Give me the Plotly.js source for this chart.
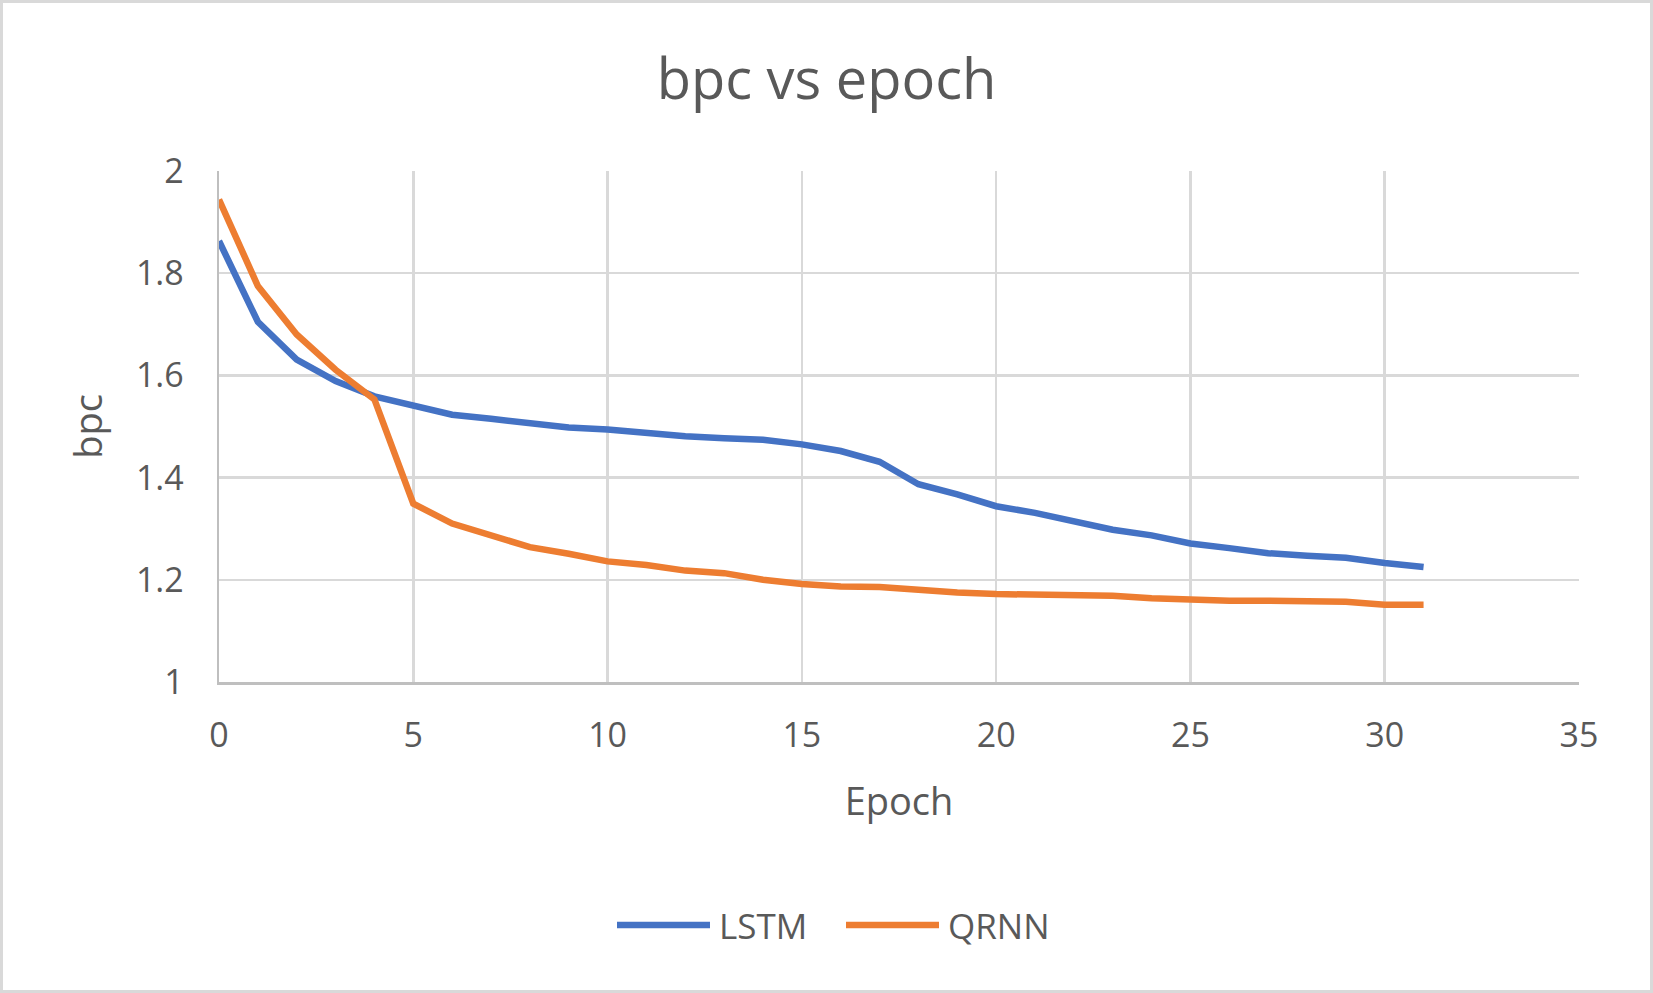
<!DOCTYPE html>
<html>
<head>
<meta charset="utf-8">
<script src="https://cdn.plot.ly/plotly-3.0.1.min.js"></script>
<style>
  html, body { margin:0; padding:0; background:#fff; }
  #wrap { position:relative; width:1653px; height:993px; }
  #chart { width:1653px; height:993px; }
  #frame { position:absolute; left:0; top:0; width:1653px; height:993px; box-sizing:border-box; border:3px solid #d9d9d9; pointer-events:none; }
</style>
</head>
<body>
<div id="wrap"><div id="chart"></div><div id="frame"></div></div>
<script>
const epochs = [0,1,2,3,4,5,6,7,8,9,10,11,12,13,14,15,16,17,18,19,20,21,22,23,24,25,26,27,28,29,30,31];
const lstm = [1.863,1.705,1.631,1.589,1.559,1.540,1.523,1.515,1.506,1.498,1.494,1.486,1.481,1.477,1.474,1.465,
              1.452,1.431,1.387,1.367,1.344,1.331,1.316,1.298,1.287,1.271,1.262,1.252,1.247,1.243,1.233,1.225];
const qrnn = [1.944,1.775,1.680,1.611,1.553,1.349,1.310,1.288,1.264,1.251,1.236,1.229,1.218,1.213,1.200,1.192,
              1.187,1.186,1.179,1.175,1.172,1.172,1.170,1.169,1.164,1.161,1.159,1.159,1.157,1.157,1.151,1.151];
const seriesNames = ['LSTM','QRNN'];
const colors = ['#4472C4','#ED7D31'];

const textColor = '#595959';
const font = '"Open Sans", "Noto Sans", sans-serif';

const traces = [
  {x: epochs, y: lstm, name: seriesNames[0], type:'scatter', mode:'lines', line:{color:colors[0], width:6.5}},
  {x: epochs, y: qrnn, name: seriesNames[1], type:'scatter', mode:'lines', line:{color:colors[1], width:6.5}}
];

// custom legend (paper coords)
const L = {l:219, r:74, t:171, b:311, W:1653, H:993};
const pw = L.W - L.l - L.r, ph = L.H - L.t - L.b;
const px = v => (v - L.l) / pw;
const py = v => (L.H - L.b - v) / ph;
const legY = py(925);
const legendItems = [
  {x0:617, x1:710, tx:717},
  {x0:846, x1:939, tx:946}
];
const shapes = legendItems.map((it,i) => ({
  type:'line', xref:'paper', yref:'paper', x0:px(it.x0), x1:px(it.x1), y0:legY, y1:legY,
  line:{color:colors[i], width:6.5}
}));
const annotations = legendItems.map((it,i) => ({
  xref:'paper', yref:'paper', x:px(it.tx), y:legY, xanchor:'left', yanchor:'middle',
  text:seriesNames[i], showarrow:false, font:{family:font, size:35, color:textColor}
}));

const layout = {
  width:1653, height:993,
  margin:{l:L.l, r:L.r, t:L.t, b:L.b, pad:0},
  paper_bgcolor:'#ffffff', plot_bgcolor:'#ffffff',
  showlegend:false,
  title:{text:'bpc vs epoch', font:{family:font, size:56, color:textColor},
         x:0.5, xref:'container', xanchor:'center', y:1-79/993, yref:'container', yanchor:'middle'},
  xaxis:{
    range:[0,35], dtick:5, tick0:0, showgrid:true, gridcolor:'#d9d9d9', gridwidth:2.5,
    showline:true, linecolor:'#bfbfbf', linewidth:2.5, zeroline:false,
    ticks:'outside', ticklen:22, tickcolor:'rgba(0,0,0,0)',
    tickfont:{family:font, size:34, color:textColor},
    title:{text:'Epoch', font:{family:font, size:38, color:textColor}, standoff:32}
  },
  yaxis:{
    range:[1,2], dtick:0.2, tick0:1, showgrid:true, gridcolor:'#d9d9d9', gridwidth:2.5,
    showline:true, linecolor:'#bfbfbf', linewidth:2.5, zeroline:false,
    ticks:'outside', ticklen:26, tickcolor:'rgba(0,0,0,0)',
    tickfont:{family:font, size:34, color:textColor},
    title:{text:'bpc', font:{family:font, size:38, color:textColor}, standoff:22}
  },
  shapes: shapes,
  annotations: annotations
};

Plotly.newPlot('chart', traces, layout, {staticPlot:true, displayModeBar:false});
</script>
</body>
</html>
